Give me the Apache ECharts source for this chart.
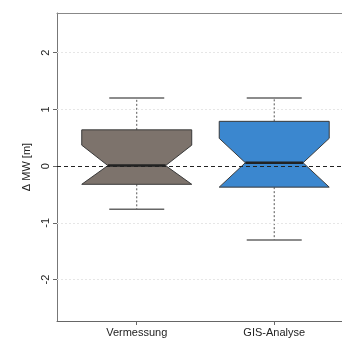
<!DOCTYPE html>
<html><head><meta charset="utf-8">
<script src="https://cdn.jsdelivr.net/npm/echarts@6/dist/echarts.min.js"></script>
<style>html,body{margin:0;padding:0;background:#fff}#c{width:342px;height:338px}</style>
</head><body><div id="c"></div>
<script>
var categories = ['Vermessung', 'GIS-Analyse'];
var positions = [1, 2];
var whiskerLow = [-0.76, -1.30];
var q1 = [-0.32, -0.37];
var median = [0.01, 0.06];
var q3 = [0.64, 0.79];
var whiskerHigh = [1.20, 1.20];
var notchLow = [-0.32, -0.37];
var notchHigh = [0.37, 0.49];
var boxColors = ['#7d736c', '#3b87cf'];
var yTicks = [-2, -1, 0, 1, 2];

var data = positions.map(function (p, i) {
  return [p, whiskerLow[i], q1[i], median[i], q3[i], whiskerHigh[i], notchLow[i], notchHigh[i], i];
});

var BOX_HALF = 0.4, NOTCH_HALF = 0.21, CAP_HALF = 0.2;

function renderItem(params, api) {
  var x = api.value(0);
  var idx = api.value(8);
  function c(dx, y) { return api.coord([x + dx, y]); }
  var wl = api.value(1), lo = api.value(2), md = api.value(3), hi = api.value(4), wh = api.value(5);
  var nl = api.value(6), nh = api.value(7);
  var poly = [
    c(-BOX_HALF, hi), c(BOX_HALF, hi), c(BOX_HALF, nh), c(NOTCH_HALF, md),
    c(BOX_HALF, nl), c(BOX_HALF, lo), c(-BOX_HALF, lo), c(-BOX_HALF, nl),
    c(-NOTCH_HALF, md), c(-BOX_HALF, nh)
  ];
  var wStyle = { stroke: '#555', lineWidth: 1, lineDash: [2, 2] };
  var capStyle = { stroke: '#666', lineWidth: 1.5 };
  function seg(a, b, style) {
    return { type: 'line', shape: { x1: a[0], y1: a[1], x2: b[0], y2: b[1] }, style: style };
  }
  return {
    type: 'group',
    children: [
      seg(c(0, hi), c(0, wh), wStyle),
      seg(c(0, lo), c(0, wl), wStyle),
      seg(c(-CAP_HALF, wh), c(CAP_HALF, wh), capStyle),
      seg(c(-CAP_HALF, wl), c(CAP_HALF, wl), capStyle),
      { type: 'polygon', shape: { points: poly }, style: { fill: boxColors[idx], stroke: '#3a3a3a', lineWidth: 1 } },
      seg(c(-NOTCH_HALF, md), c(NOTCH_HALF, md), { stroke: '#222', lineWidth: 2.5 })
    ]
  };
}

var chart = echarts.init(document.getElementById('c'));
chart.setOption({
  animation: false,
  grid: { left: 57, right: 0, top: 13, bottom: 17 },
  xAxis: [{
    type: 'value', min: 0.42, max: 2.493, position: 'bottom',
    splitLine: { show: false },
    axisLine: { show: true, onZero: false, lineStyle: { color: '#666', width: 1 } },
    axisTick: { show: true, customValues: positions, length: 4, lineStyle: { color: '#666' } },
    axisLabel: {
      customValues: positions, margin: 6, color: '#222', fontSize: 11, fontFamily: 'Liberation Sans',
      formatter: function (v) { return categories[Math.round(v) - 1]; }
    }
  }, {
    type: 'value', min: 0.42, max: 2.493, position: 'top',
    splitLine: { show: false },
    axisLine: { show: true, onZero: false, lineStyle: { color: '#888', width: 1 } },
    axisTick: { show: false }, axisLabel: { show: false }
  }],
  yAxis: {
    type: 'value', min: -2.73, max: 2.7,
    name: 'Δ MW [m]', nameLocation: 'middle', nameGap: 20, nameRotate: 90,
    nameTextStyle: { color: '#222', fontSize: 11, fontFamily: 'Liberation Sans' },
    splitLine: { show: false },
    axisLine: { show: true, onZero: false, lineStyle: { color: '#777', width: 1 } },
    axisTick: { show: true, customValues: yTicks, length: 4, lineStyle: { color: '#666' } },
    axisLabel: { customValues: yTicks, rotate: 90, margin: 6, color: '#222', fontSize: 11, fontFamily: 'Liberation Sans' }
  },
  series: [{
    type: 'line', data: [], silent: true,
    markLine: {
      symbol: 'none', silent: true, label: { show: false }, animation: false,
      data: yTicks.filter(function (v) { return v !== 0; }).map(function (v) {
        return { yAxis: v, lineStyle: { color: '#e6e6e6', type: [2, 2], width: 1 } };
      }).concat([{ yAxis: 0, lineStyle: { color: '#222', type: [4, 3], width: 1 } }])
    }
  }, {
    type: 'custom', renderItem: renderItem, data: data, z: 3,
    encode: { x: 0, y: [1, 5] }
  }]
});
</script></body></html>
